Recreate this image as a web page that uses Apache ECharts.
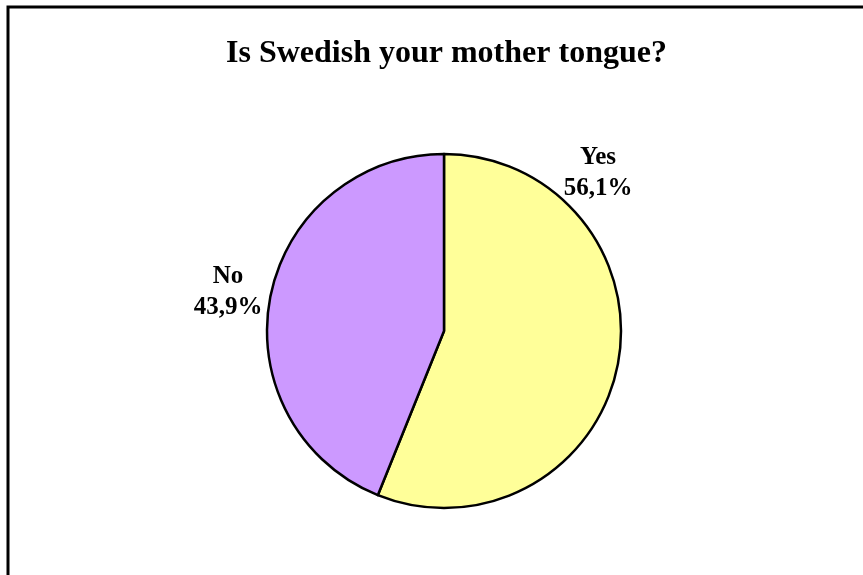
<!DOCTYPE html>
<html>
<head>
<meta charset="utf-8">
<script src="https://cdn.jsdelivr.net/npm/echarts@6/dist/echarts.min.js"></script>
<style>
  html, body { margin: 0; padding: 0; background: #fff; }
  #chart { width: 863px; height: 575px; }
</style>
</head>
<body>
<div id="chart"></div>
<script>
  // data
  var categories = ['Yes', 'No']
  var shares = [56.1, 43.9]
  var sliceColors = ['#FFFF99', '#CC99FF']
  // where each label sits (Excel puts them by hand)
  var labelSpots = [[598, 173], [228, 292]]

  var chart = echarts.init(document.getElementById('chart'))
  var option = {
    animation: false,
    backgroundColor: '#fff',
    title: {
      text: 'Is Swedish your mother tongue?',
      left: 221,
      top: 33,
      textStyle: {
        fontFamily: 'Liberation Serif',
        fontSize: 32,
        fontWeight: 'bold',
        color: '#000'
      }
    },
    graphic: [
      {
        type: 'rect',
        shape: { x: 8, y: 7, width: 900, height: 600 },
        style: { fill: 'none', stroke: '#000', lineWidth: 3 }
      }
    ],
    series: [
      {
        type: 'pie',
        center: [444, 331],
        radius: 177,
        startAngle: 90,
        clockwise: true,
        data: categories.map(function (name, i) {
          return { name: name, value: shares[i], itemStyle: { color: sliceColors[i] } }
        }),
        itemStyle: { borderColor: '#000', borderWidth: 2.5 },
        label: {
          show: true,
          position: 'outside',
          formatter: function (p) {
            return p.name + '\n' + p.value.toFixed(1).replace('.', ',') + '%'
          },
          fontFamily: 'Liberation Serif',
          fontSize: 25,
          fontWeight: 'bold',
          lineHeight: 31,
          color: '#000',
          align: 'center'
        },
        labelLine: { show: false },
        labelLayout: function (params) {
          var spot = labelSpots[params.dataIndex]
          return { x: spot[0], y: spot[1], align: 'center', verticalAlign: 'middle' }
        },
        emphasis: { disabled: true }
      }
    ]
  }
  chart.setOption(option)
</script>
</body>
</html>
